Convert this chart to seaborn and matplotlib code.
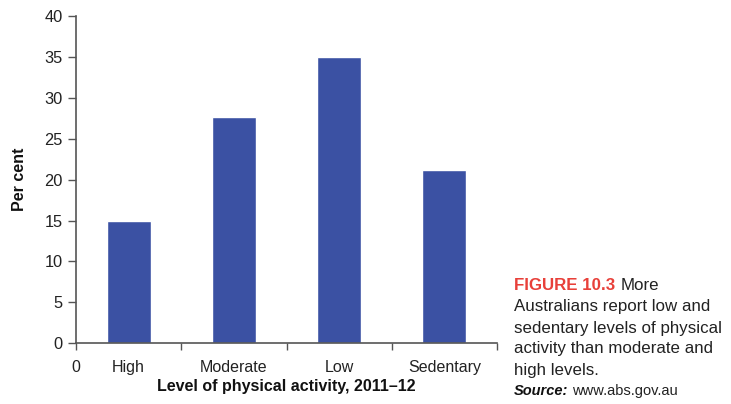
import numpy as np
import pandas as pd
import matplotlib
matplotlib.use('Agg')
import matplotlib.pyplot as plt
import seaborn as sns

# data
levels = ['High', 'Moderate', 'Low', 'Sedentary']
per_cent = [15.0, 27.7, 35.0, 21.2]
y_ticks = [0, 5, 10, 15, 20, 25, 30, 35, 40]

caption_head = 'FIGURE 10.3'
caption_lines = ['More',
                 'Australians report low and',
                 'sedentary levels of physical',
                 'activity than moderate and',
                 'high levels.']
source_head = 'Source:'
source_text = 'www.abs.gov.au'

sns.set_style('white')
plt.rcParams['font.family'] = ['Liberation Sans', 'DejaVu Sans']

df = pd.DataFrame({'level': levels, 'pct': per_cent})

W, H = 731, 404
fig = plt.figure(figsize=(W / 100, H / 100), dpi=100)
ax = fig.add_axes([76 / W, 61 / H, 421 / W, 326.5 / H])

sns.barplot(data=df, x='level', y='pct', color='#3B51A3', width=0.42,
            saturation=1, ax=ax)

ax.set_xlim(-0.5, len(levels) - 0.5)
ax.set_ylim(0, 40)
ax.set_yticks(y_ticks)
ax.set_yticklabels([str(t) for t in y_ticks])

# major ticks on category boundaries, labels on minor ticks at centres
bounds = np.arange(len(levels) + 1) - 0.5
ax.set_xticks(bounds)
ax.set_xticklabels(['0'] + [''] * len(levels))
ax.set_xticks(np.arange(len(levels)), minor=True)
ax.set_xticklabels(levels, minor=True)

ax.tick_params(axis='y', which='major', direction='out', length=5.8, width=1,
               color='#555555', labelsize=11.8, labelcolor='#222222', pad=4, left=True)
ax.tick_params(axis='x', which='major', direction='out', length=5, width=1,
               color='#555555', labelsize=11.5, labelcolor='#222222', pad=7, bottom=True)
ax.tick_params(axis='x', which='minor', length=0, labelsize=11.5,
               labelcolor='#222222', pad=12)

for side in ['top', 'right']:
    ax.spines[side].set_visible(False)
for side in ['left', 'bottom']:
    ax.spines[side].set_color('#555555')
    ax.spines[side].set_linewidth(1.2)

ax.set_xlabel('Level of physical activity, 2011\u201312', fontsize=11.5,
              fontweight='bold', color='#111111', labelpad=3)
ax.set_ylabel('Per cent', fontsize=11.5, fontweight='bold', color='#111111',
              labelpad=12)

# caption at the right
x0 = 514 / W
fig.text(x0, 1 - 286 / H, caption_head, fontsize=12.2, fontweight='bold',
         color='#E8403A', va='center', ha='left')
fig.text(621 / W, 1 - 286 / H, caption_lines[0], fontsize=12.2,
         color='#222222', va='center', ha='left')
for i, line in enumerate(caption_lines[1:]):
    fig.text(x0, 1 - (307 + 21 * i) / H, line, fontsize=12.2,
             color='#222222', va='center', ha='left')
fig.text(x0, 1 - 391 / H, source_head, fontsize=10.5, fontweight='bold',
         fontstyle='italic', color='#111111', va='center', ha='left')
fig.text(572 / W, 1 - 391 / H, source_text, fontsize=10.5,
         color='#222222', va='center', ha='left')

fig.savefig('out.png', dpi=100)
